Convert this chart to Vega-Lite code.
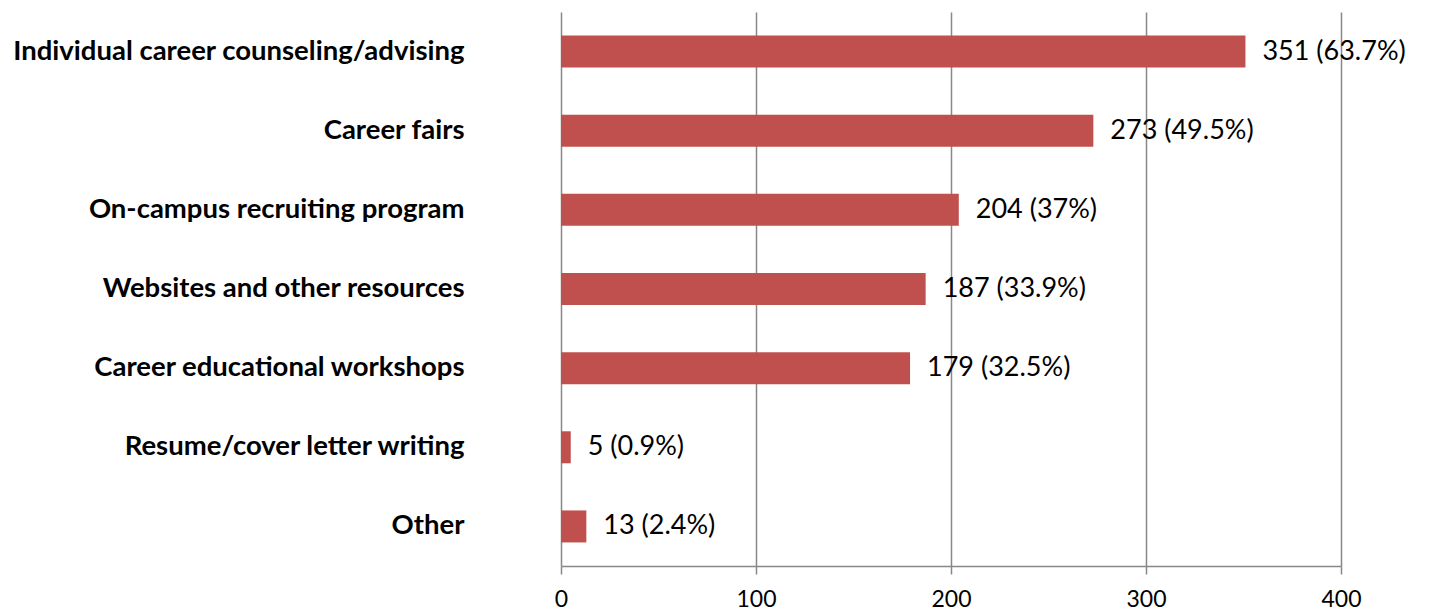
{
  "$schema": "https://vega.github.io/schema/vega-lite/v6.json",
  "autosize": {"type": "none"},
  "padding": {"left": 561, "top": 12, "right": 95, "bottom": 45},
  "width": 780,
  "height": 554,
  "background": "white",
  "config": {"view": {"stroke": null}, "font": "Lato"},
  "data": {
    "values": [
      {"category": "Individual career counseling/advising", "count": 351, "label": "351 (63.7%)"},
      {"category": "Career fairs", "count": 273, "label": "273 (49.5%)"},
      {"category": "On-campus recruiting program", "count": 204, "label": "204 (37%)"},
      {"category": "Websites and other resources", "count": 187, "label": "187 (33.9%)"},
      {"category": "Career educational workshops", "count": 179, "label": "179 (32.5%)"},
      {"category": "Resume/cover letter writing", "count": 5, "label": "5 (0.9%)"},
      {"category": "Other", "count": 13, "label": "13 (2.4%)"}
    ]
  },
  "encoding": {
    "y": {
      "field": "category",
      "type": "nominal",
      "sort": null,
      "title": null,
      "scale": {"paddingInner": 0, "paddingOuter": 0},
      "axis": {
        "domain": false,
        "ticks": false,
        "labelPadding": 97,
        "labelFont": "Lato",
        "labelFontWeight": "bold",
        "labelFontSize": 27.5,
        "labelColor": "black",
        "labelLimit": 600,
        "labelBaselineOffset": -3
      }
    }
  },
  "layer": [
    {
      "mark": {"type": "bar", "color": "#C0504D", "size": 32},
      "encoding": {
        "x": {
          "field": "count",
          "type": "quantitative",
          "scale": {"domain": [0, 400], "nice": false},
          "title": null,
          "axis": {
            "values": [0, 100, 200, 300, 400],
            "grid": true,
            "gridColor": "#888888",
            "gridWidth": 1.5,
            "domainColor": "#888888",
            "domainWidth": 1.5,
            "tickColor": "#888888",
            "tickWidth": 1.5,
            "tickSize": 8,
            "labelFlush": false,
            "labelFont": "Lato",
            "labelFontSize": 23,
            "labelColor": "black",
            "labelPadding": 14
          }
        }
      }
    },
    {
      "mark": {"type": "text", "align": "left", "baseline": "middle", "dx": 17, "fontSize": 27, "font": "Lato", "color": "black"},
      "encoding": {
        "x": {"field": "count", "type": "quantitative"},
        "text": {"field": "label"}
      }
    }
  ]
}
